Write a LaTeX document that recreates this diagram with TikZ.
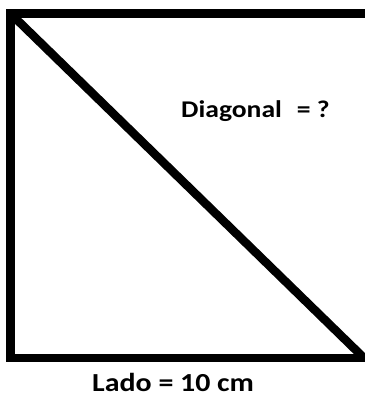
\documentclass[tikz,border=0pt]{standalone}
\usepackage{fontspec}
\setmainfont{Carlito}
\begin{document}
\begin{tikzpicture}[x=1pt,y=-1pt,
  edge/.style={line width=8.5pt,line join=miter,black},
  lbl/.style={inner sep=0pt,anchor=base west}]
\useasboundingbox (0,0) rectangle (364,395);
\coordinate (tl) at (10.5,13.5);
\coordinate (tr) at (368,13.5);
\coordinate (br) at (368,358);
\coordinate (bl) at (10.5,358);
\coordinate (dend) at (364,358);
\draw[edge] (tr) -- (tl) -- (bl) -- (br);
\draw[edge] (tl) -- (dend);
\node[lbl] (diag) at (181,118) {\scalebox{1.15}[1]{\bfseries\fontsize{24}{28}\selectfont Diagonal\hspace{13pt}= ?}};
\node[lbl] (lado) at (92,391) {\scalebox{1.15}[1]{\bfseries\fontsize{26}{30}\selectfont Lado = 10 cm}};
\end{tikzpicture}
\end{document}
